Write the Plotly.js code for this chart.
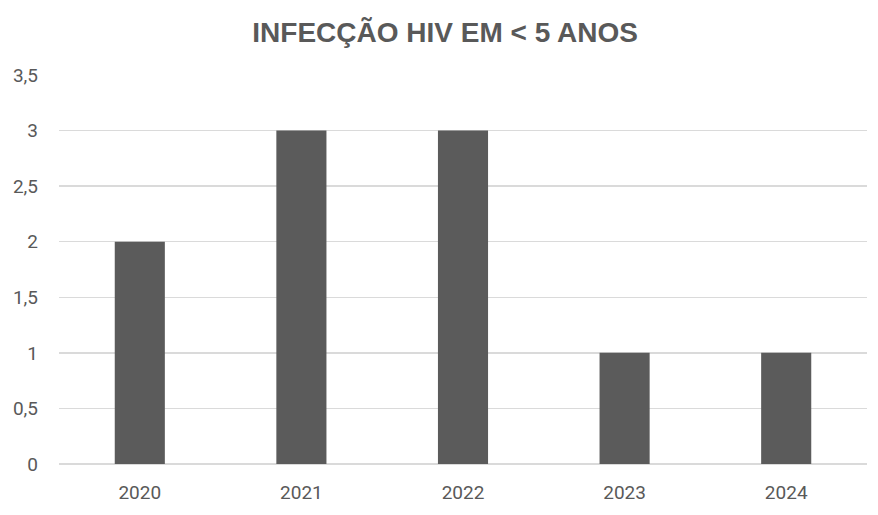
<!DOCTYPE html>
<html>
<head>
<meta charset="utf-8">
<script src="https://cdn.plot.ly/plotly-3.0.1.min.js"></script>
<style>html,body{margin:0;padding:0;background:#fff;}#chart{width:878px;height:515px;}</style>
</head>
<body>
<div id="chart"></div>
<script>
const categories = ["2020", "2021", "2022", "2023", "2024"];
const values = [2, 3, 3, 1, 1];
const yTicks = [0, 0.5, 1, 1.5, 2, 2.5, 3, 3.5];

const trace = {
  type: "bar",
  x: categories,
  y: values,
  marker: {color: "#5b5b5b"},
  hoverinfo: "x+y"
};

const layout = {
  width: 878,
  height: 515,
  margin: {l: 59, r: 11, t: 75, b: 51},
  paper_bgcolor: "#ffffff",
  plot_bgcolor: "#ffffff",
  separators: ",.",
  bargap: 0.69,
  showlegend: false,
  title: {
    text: "<b>INFECÇÃO HIV EM < 5 ANOS</b>",
    x: 0.507, xanchor: "center",
    y: 0.938, yanchor: "middle",
    font: {family: "Liberation Sans, Arial, sans-serif", size: 28, color: "#595959"}
  },
  xaxis: {
    type: "category",
    showgrid: false,
    showline: false,
    ticks: "",
    tickfont: {family: "Roboto, Liberation Sans, sans-serif", size: 19, color: "#595959"},
    ticklabelstandoff: 15
  },
  yaxis: {
    range: [0, 3.5],
    tickvals: yTicks,
    showgrid: true,
    gridcolor: "#dadada",
    gridwidth: 1.5,
    zeroline: true,
    zerolinecolor: "#dadada",
    zerolinewidth: 1.5,
    showline: false,
    ticks: "",
    ticklabelstandoff: 20,
    tickfont: {family: "Roboto, Liberation Sans, sans-serif", size: 19, color: "#595959"}
  }
};

Plotly.newPlot("chart", [trace], layout, {displayModeBar: false, staticPlot: true});
</script>
</body>
</html>
